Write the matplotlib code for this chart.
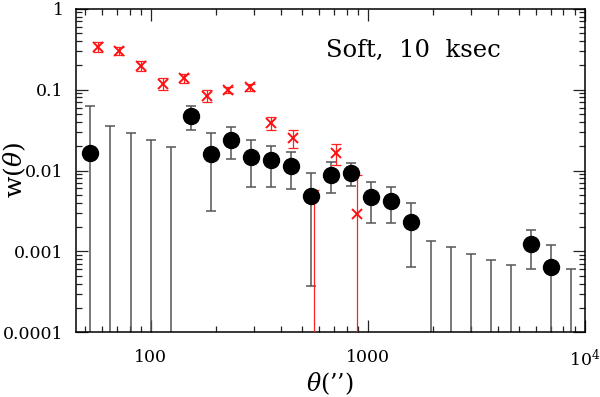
import numpy as np
import matplotlib
matplotlib.use('Agg')
import matplotlib.pyplot as plt
from matplotlib.ticker import LogLocator, FuncFormatter, NullFormatter

plt.rcParams['font.family'] = ['DejaVu Serif']
plt.rcParams['mathtext.fontset'] = 'dejavuserif'

# soft band, 10 ksec: angular bins (arcsec), w(theta) and error bounds
# NaN in w_soft -> negative estimate (only the upper bound is visible)
# NaN in lo_soft -> lower bound runs off the bottom of the plot
theta_soft = [52.5, 65, 81, 100, 124, 153, 190, 234, 289, 358, 443, 547, 676,
              836, 1033, 1277, 1578, 1963, 2420, 2990, 3700, 4580, 5680, 7020, 8660]
w_soft = [0.0163, np.nan, np.nan, np.nan, np.nan, 0.0473, 0.0162, 0.0238, 0.0148,
          0.0133, 0.01143, 0.00485, 0.00891, 0.00935, 0.00467, 0.00424, 0.00228,
          np.nan, np.nan, np.nan, np.nan, np.nan, 0.00123, 0.000636, np.nan]
hi_soft = [0.063, 0.0355, 0.0294, 0.0238, 0.0195, 0.063, 0.0288, 0.0345, 0.0236,
           0.0202, 0.0171, 0.00944, 0.0128, 0.0123, 0.00716, 0.00621, 0.00393,
           0.00135, 0.00113, 0.00094, 0.00079, 0.000686, 0.00183, 0.00120, 0.000601]
lo_soft = [np.nan, np.nan, np.nan, np.nan, np.nan, 0.0314, 0.00312, 0.0137, 0.00633,
           0.00633, 0.00586, 0.000376, 0.00528, 0.00651, 0.00226, 0.00226, 0.000636,
           np.nan, np.nan, np.nan, np.nan, np.nan, 0.000607, np.nan, np.nan]

# second (red) sample
theta_red = [57.3, 71.7, 90.3, 113.8, 142, 181, 228, 286, 360, 452, 568, 713, 895]
w_red = [0.334, 0.298, 0.198, 0.116, 0.138, 0.0838, 0.0995, 0.108, 0.0384, 0.0250,
         np.nan, 0.0166, 0.0029]
hi_red = [0.386, 0.334, 0.228, 0.140, 0.157, 0.0995, 0.108, 0.119, 0.0456, 0.0314,
          0.0058, 0.0213, 0.00884]
lo_red = [0.295, 0.268, 0.171, 0.0987, 0.121, 0.0694, 0.0904, 0.0966, 0.0316, 0.0189,
          np.nan, 0.0118, np.nan]

floor = 1e-6


def bars(theta, w, hi, lo):
    w = np.array(w, float); hi = np.array(hi, float); lo = np.array(lo, float)
    yc = np.where(np.isnan(w), hi, w)
    lo = np.where(np.isnan(lo), floor, lo)
    return np.array(theta, float), yc, [yc - lo, hi - yc]


fig = plt.figure(figsize=(6, 3.97), dpi=100)
ax = fig.add_axes([0.1267, 0.163, 0.8475, 0.815])

x, yc, err = bars(theta_soft, w_soft, hi_soft, lo_soft)
ax.errorbar(x, yc, yerr=err, fmt='none', ecolor='#555555', elinewidth=1.1,
            capsize=3.3, capthick=1.1, zorder=2)
x, yc, err = bars(theta_red, w_red, hi_red, lo_red)
ax.errorbar(x, yc, yerr=err, fmt='none', ecolor='#ff2020', elinewidth=0.9,
            capsize=3.5, capthick=0.9, zorder=3)
ax.plot(theta_red, w_red, 'x', color='#ff1010', ms=7.5, mew=1.4, zorder=4)
ax.plot(theta_soft, w_soft, 'o', color='k', ms=11.5, zorder=5)

ax.set_xscale('log')
ax.set_yscale('log')
ax.set_xlim(45.3, 1e4)
ax.set_ylim(1e-4, 1)

ax.xaxis.set_major_locator(LogLocator(base=10))
ax.xaxis.set_minor_locator(LogLocator(base=10, subs=np.arange(2, 10)))
ax.yaxis.set_major_locator(LogLocator(base=10))
ax.yaxis.set_minor_locator(LogLocator(base=10, subs=np.arange(2, 10)))
ax.xaxis.set_major_formatter(FuncFormatter(lambda v, p: '10$^4$' if v >= 1e4 else '%g' % v))
ax.yaxis.set_major_formatter(FuncFormatter(lambda v, p: '%g' % v))
ax.xaxis.set_minor_formatter(NullFormatter())
ax.yaxis.set_minor_formatter(NullFormatter())

ax.tick_params(which='both', direction='in', top=True, right=True, width=0.9,
               colors='#222222', labelcolor='k')
ax.tick_params(which='major', length=8.5, labelsize=12.5)
ax.tick_params(axis='x', which='major', pad=12)
ax.tick_params(axis='y', which='major', pad=9)
ax.tick_params(which='minor', length=4.3)
for s in ax.spines.values():
    s.set_linewidth(1.1)

ax.set_xlabel("$\\theta$(\u2019\u2019)", fontsize=17)
ax.set_ylabel(r"w($\theta$)", fontsize=18)
ax.xaxis.set_label_coords(0.5, -0.118)
ax.yaxis.set_label_coords(-0.094, 0.5)

ax.text(0.491, 0.85, 'Soft,  10  ksec', transform=ax.transAxes, fontsize=17.5,
        ha='left', va='baseline')

fig.savefig('out.png', dpi=100)
